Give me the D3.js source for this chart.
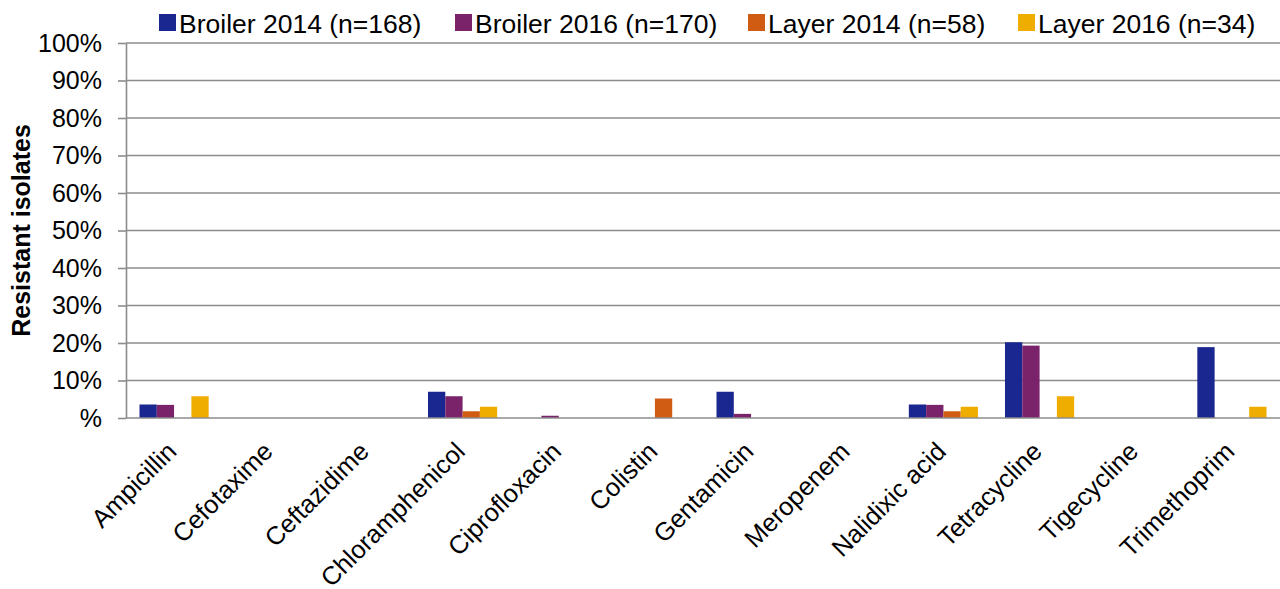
<!DOCTYPE html>
<meta charset="utf-8">
<style>
body { margin: 0; background: #fff; }
svg { font-family: "Liberation Sans", Arial, sans-serif; }
.grid line { stroke: #8c8c8c; stroke-width: 1.6; }
.axis path, .axis line { stroke: #8c8c8c; stroke-width: 1.6; }
.axis text { fill: #000; font-size: 25px; }
</style>
<body>
<script src="https://cdn.jsdelivr.net/npm/d3@7"></script>
<script>

// categories and series
var drugs = ["Ampicillin", "Cefotaxime", "Ceftazidime", "Chloramphenicol", "Ciprofloxacin",
  "Colistin", "Gentamicin", "Meropenem", "Nalidixic acid", "Tetracycline", "Tigecycline", "Trimethoprim"];
var seriesNames = ["Broiler 2014 (n=168)", "Broiler 2016 (n=170)", "Layer 2014 (n=58)", "Layer 2016 (n=34)"];
var colors = ["#1b2790", "#7a236a", "#d05c14", "#efad00"];

// percent resistant
var broiler2014 = [3.6, 0, 0, 7.0, 0, 0, 7.0, 0, 3.6, 20.2, 0, 18.9];
var broiler2016 = [3.5, 0, 0, 5.8, 0.6, 0, 1.1, 0, 3.5, 19.3, 0, 0];
var layer2014   = [0, 0, 0, 1.8, 0, 5.2, 0, 0, 1.8, 0, 0, 0];
var layer2016   = [5.8, 0, 0, 3.0, 0, 0, 0, 0, 3.0, 5.8, 0, 3.0];

var yTicks = [0, 10, 20, 30, 40, 50, 60, 70, 80, 90, 100];
var yTickLabels = ["%", "10%", "20%", "30%", "40%", "50%", "60%", "70%", "80%", "90%", "100%"];

var allSeries = [broiler2014, broiler2016, layer2014, layer2016];

var W = 1280, H = 589;
var plotLeft = 126, plotRight = 1280, plotTop = 43, plotBottom = 418;

var svg = d3.select("body").append("svg")
    .attr("width", W)
    .attr("height", H);

var x = d3.scaleBand()
    .domain(drugs)
    .range([plotLeft, plotRight])
    .padding(0);

var xs = d3.scaleBand()
    .domain(d3.range(seriesNames.length))
    .range([0, x.bandwidth()])
    .paddingInner(0)
    .paddingOuter(0.78);

var y = d3.scaleLinear()
    .domain([0, 100])
    .range([plotBottom, plotTop]);

// gridlines
svg.append("g")
    .attr("class", "grid")
  .selectAll("line")
    .data(yTicks.slice(1))
  .enter().append("line")
    .attr("x1", plotLeft)
    .attr("x2", plotRight)
    .attr("y1", function(d) { return y(d); })
    .attr("y2", function(d) { return y(d); });

// bars
var data = [];
drugs.forEach(function(drug, i) {
  allSeries.forEach(function(s, j) {
    if (s[i] > 0) data.push({drug: drug, series: j, value: s[i]});
  });
});

svg.append("g").selectAll("rect")
    .data(data)
  .enter().append("rect")
    .attr("x", function(d) { return x(d.drug) + xs(d.series); })
    .attr("width", xs.bandwidth())
    .attr("y", function(d) { return y(d.value); })
    .attr("height", function(d) { return y(0) - y(d.value); })
    .style("fill", function(d) { return colors[d.series]; });

// y axis
svg.append("g")
    .attr("class", "axis")
    .attr("transform", "translate(" + plotLeft + ",0)")
    .call(d3.axisLeft(y)
      .tickValues(yTicks)
      .tickFormat(function(d, i) { return yTickLabels[i]; })
      .tickSizeInner(8)
      .tickSizeOuter(0)
      .tickPadding(16));

// x baseline
svg.append("line")
    .attr("x1", plotLeft).attr("x2", plotRight)
    .attr("y1", y(0)).attr("y2", y(0))
    .style("stroke", "#8c8c8c")
    .style("stroke-width", 1.6);

// category labels
svg.append("g").selectAll("text")
    .data(drugs)
  .enter().append("text")
    .attr("transform", function(d) {
      return "translate(" + (x(d) + x.bandwidth() / 2 + 4) + ",453) rotate(-45)";
    })
    .attr("text-anchor", "end")
    .style("font-size", "25.5px")
    .text(function(d) { return d; });

// y title
svg.append("text")
    .attr("transform", "translate(30," + ((plotTop + plotBottom) / 2) + ") rotate(-90)")
    .attr("text-anchor", "middle")
    .style("font-size", "25px")
    .style("font-weight", "bold")
    .text("Resistant isolates");

// legend
var legendX = [159, 455, 748, 1018];
var legend = svg.append("g").selectAll("g")
    .data(seriesNames)
  .enter().append("g")
    .attr("transform", function(d, i) { return "translate(" + legendX[i] + ",14)"; });

legend.append("rect")
    .attr("width", 17)
    .attr("height", 17)
    .style("fill", function(d, i) { return colors[i]; });

legend.append("text")
    .attr("x", 20)
    .attr("y", 18.5)
    .style("font-size", "26.5px")
    .text(function(d) { return d; });

</script>
</body>
